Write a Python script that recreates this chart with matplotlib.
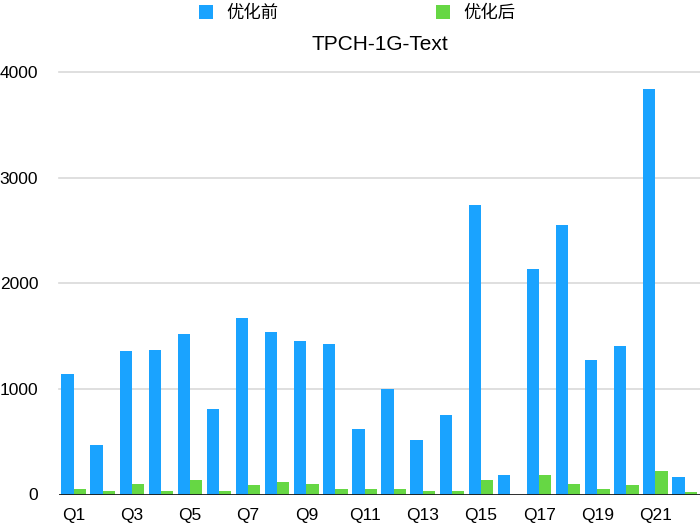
import numpy as np
import matplotlib
matplotlib.use("Agg")
import matplotlib.pyplot as plt

plt.rcParams['font.family'] = ['Liberation Sans', 'Noto Sans CJK SC', 'DejaVu Sans']

# Query timings
queries = ["Q%d" % i for i in range(1, 23)]
before = [1140, 472, 1355, 1372, 1520, 806, 1670, 1536, 1453, 1422, 624,
          1004, 519, 754, 2740, 188, 2136, 2556, 1271, 1404, 3840, 170]
after = [53, 32, 101, 32, 136, 32, 86, 117, 101, 51, 51,
         51, 32, 32, 136, 0, 187, 101, 51, 86, 219, 19]
series_names = ["优化前", "优化后"]
title = "TPCH-1G-Text"
yticks = [0, 1000, 2000, 3000, 4000]

blue = "#1aa3ff"
green = "#66d744"

fig = plt.figure(figsize=(7.0, 5.24), dpi=100)
ax = fig.add_axes([59/700, 29.5/524, 641/700, 422.2/524])

x = np.arange(len(queries))
w = 0.42
ax.bar(x - w/2, before, width=w, color=blue, label=series_names[0], zorder=3)
ax.bar(x + w/2, after, width=w, color=green, label=series_names[1], zorder=3)

ax.set_xlim(-0.5, 21.53)
ax.set_ylim(0, 4000)

ax.set_yticks(yticks)
ax.set_yticklabels([str(v) for v in yticks], fontsize=12.5)
ax.set_xticks(x[::2])
ax.set_xticklabels(queries[::2], fontsize=12.5)
ax.tick_params(axis='y', length=0, pad=15)
ax.tick_params(axis='x', length=0, pad=10)

for v in yticks[1:]:
    ax.axhline(v, color="#d9d9d9", lw=1.2, zorder=1, clip_on=False)
ax.axhline(0, color="#1a1a1a", lw=2, zorder=4)

for s in ax.spines.values():
    s.set_visible(False)

ax.set_title(title, fontsize=15, pad=16)

fig.legend(loc='center', bbox_to_anchor=(357/700, 1 - 13/524), ncol=2,
           frameon=False, fontsize=12.5, handlelength=0.8, handleheight=0.8,
           handletextpad=0.75, columnspacing=9.1)

fig.savefig("out.png", dpi=100)
